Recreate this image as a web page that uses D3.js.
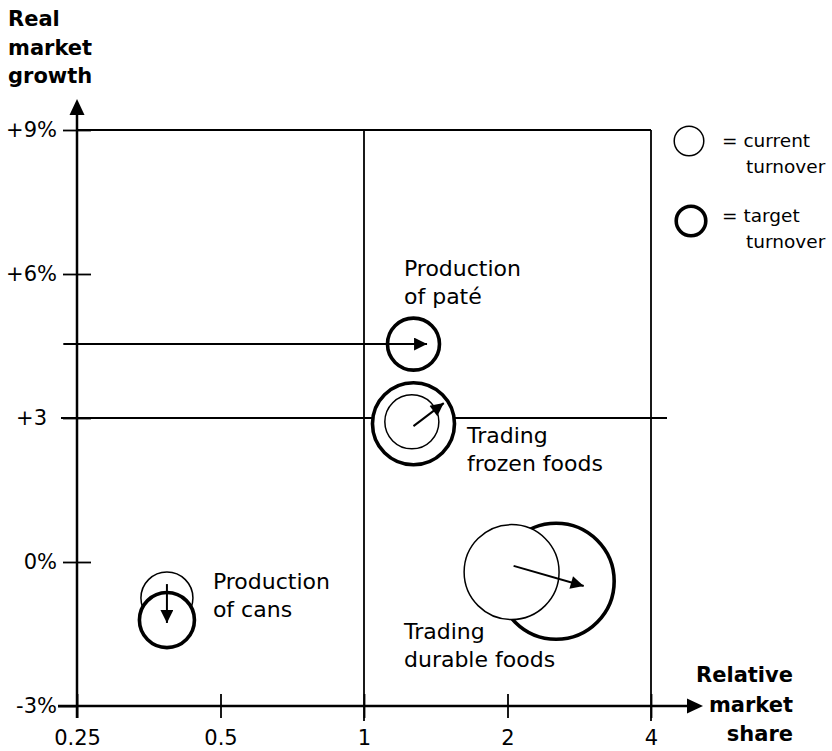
<!DOCTYPE html>
<html>
<head>
<meta charset="utf-8">
<script src="https://cdn.jsdelivr.net/npm/d3@7"></script>
<style>
  body { margin: 0; background: #fff; }
  svg text { font-family: "DejaVu Sans", sans-serif; fill: #000; }
</style>
</head>
<body>
<div id="chart"></div>
<script>
// Axis ticks
const shareTicks = [0.25, 0.5, 1, 2, 4];
const shareTickLabels = ["0.25", "0.5", "1", "2", "4"];
const growthTicks = [-3, 0, 3, 6, 9];
const growthTickLabels = ["-3%", "0%", "+3", "+6%", "+9%"];

// Businesses: current and target position (relative share, real growth %) and turnover
const businesses = ["Production of paté", "Trading frozen foods", "Trading durable foods", "Production of cans"];
const labelLines = [["Production", "of paté"], ["Trading", "frozen foods"], ["Trading", "durable foods"], ["Production", "of cans"]];
const currentShare = [null, 1.26, 2.04, 0.386];
const currentGrowth = [null, 2.92, -0.21, -0.75];
const currentTurnover = [null, 21.7, 67, 20.1];
const targetShare = [1.27, 1.27, 2.53, 0.386];
const targetGrowth = [4.54, 2.88, -0.40, -1.21];
const targetTurnover = [20.1, 50, 100, 22.5];
const currentOnTop = [true, true, true, false];

// Movement arrows (share, growth) from -> to
const arrowFromShare = [0.234, 1.27, 2.06, 0.386];
const arrowFromGrowth = [4.54, 2.83, -0.08, -0.46];
const arrowToShare = [1.356, 1.47, 2.89, 0.386];
const arrowToGrowth = [4.54, 3.31, -0.50, -1.27];

// Label anchors in data units
const labelShare = [1.213, 1.645, 1.213, 0.482];
const labelGrowth = [5.96, 2.48, -1.60, -0.56];

const legendTurnover = 6.5;
const legendItems = [["= current", "turnover"], ["= target", "turnover"]];

const svgWidth = 832;
const svgHeight = 751;

const svg = d3.select("#chart")
  .append("svg")
  .attr("width", svgWidth)
  .attr("height", svgHeight);

// scales
const x = d3.scaleLog().base(2).domain([0.25, 4]).range([77, 651]);
const y = d3.scaleLinear().domain([-3, 9]).range([706, 130]);
const r = d3.scaleSqrt().domain([0, 100]).range([0, 58]);

// arrow head marker
svg.append("defs").append("marker")
  .attr("id", "head")
  .attr("viewBox", "0 0 10 10")
  .attr("refX", 10)
  .attr("refY", 5)
  .attr("markerWidth", 14)
  .attr("markerHeight", 13)
  .attr("markerUnits", "userSpaceOnUse")
  .attr("orient", "auto")
  .append("path")
  .attr("d", "M0,0L10,5L0,10Z")
  .attr("fill", "#000");

// matrix frame lines
const frame = svg.append("g")
  .attr("stroke", "#000")
  .attr("stroke-width", 1.8);

frame.append("line")
  .attr("x1", x(0.25)).attr("x2", x(4))
  .attr("y1", y(9)).attr("y2", y(9));
frame.append("line")
  .attr("x1", x(4)).attr("x2", x(4))
  .attr("y1", y(9)).attr("y2", y(-3) + 15);
frame.append("line")
  .attr("x1", x(1)).attr("x2", x(1))
  .attr("y1", y(9)).attr("y2", y(-3) + 15);
frame.append("line")
  .attr("x1", x(0.25) - 16).attr("x2", x(4) + 16)
  .attr("y1", y(3)).attr("y2", y(3));

// x axis
const xAxis = svg.append("g")
  .attr("transform", `translate(0, ${y(-3)})`)
  .call(d3.axisBottom(x)
    .tickValues(shareTicks)
    .tickFormat((d, i) => shareTickLabels[i])
    .tickSize(12)
    .tickPadding(12));
xAxis.select(".domain").remove();
xAxis.selectAll(".tick line").attr("y1", -12).attr("stroke-width", 1.8);
xAxis.selectAll(".tick text")
  .attr("font-size", 21)
  .attr("font-family", "DejaVu Sans");

// y axis
const yAxis = svg.append("g")
  .attr("transform", `translate(${x(0.25)}, 0)`)
  .call(d3.axisLeft(y)
    .tickValues(growthTicks)
    .tickFormat((d, i) => growthTickLabels[i])
    .tickSize(14)
    .tickPadding(6));
yAxis.select(".domain").remove();
yAxis.selectAll(".tick line").attr("x1", 14).attr("stroke-width", 1.8);
yAxis.selectAll(".tick text")
  .attr("font-size", 21)
  .attr("font-family", "DejaVu Sans");
yAxis.selectAll(".tick").filter(d => d === 3).select("text").attr("dx", -10);
yAxis.selectAll(".tick").filter(d => d === -3).select("line").attr("x1", 0).attr("x2", -19);

// main axis lines with arrow heads
svg.append("line")
  .attr("x1", x(0.25) - 19).attr("x2", 690)
  .attr("y1", y(-3)).attr("y2", y(-3))
  .attr("stroke", "#000").attr("stroke-width", 2.5);
svg.append("path")
  .attr("d", `M687,${y(-3) - 7.5}L703,${y(-3)}L687,${y(-3) + 7.5}Z`)
  .attr("fill", "#000");
svg.append("line")
  .attr("x1", x(0.25)).attr("x2", x(0.25))
  .attr("y1", y(-3) + 12).attr("y2", 112)
  .attr("stroke", "#000").attr("stroke-width", 2.5);
svg.append("path")
  .attr("d", `M${x(0.25) - 7.5},115L${x(0.25)},99L${x(0.25) + 7.5},115Z`)
  .attr("fill", "#000");

// axis titles
svg.append("text")
  .attr("font-size", 21).attr("font-weight", "bold")
  .selectAll("tspan")
  .data(["Real", "market", "growth"])
  .join("tspan")
  .attr("x", 8)
  .attr("y", (d, i) => 26 + i * 28.5)
  .text(d => d);

svg.append("text")
  .attr("font-size", 21).attr("font-weight", "bold")
  .attr("text-anchor", "end")
  .selectAll("tspan")
  .data(["Relative", "market", "share"])
  .join("tspan")
  .attr("x", 793)
  .attr("y", (d, i) => 682 + i * 29.5)
  .text(d => d);

// circles
const circles = [];
businesses.forEach((name, i) => {
  const target = { share: targetShare[i], growth: targetGrowth[i], turnover: targetTurnover[i], thick: true };
  if (currentShare[i] === null) {
    circles.push(target);
    return;
  }
  const current = { share: currentShare[i], growth: currentGrowth[i], turnover: currentTurnover[i], thick: false };
  if (currentOnTop[i]) circles.push(target, current);
  else circles.push(current, target);
});

svg.append("g")
  .selectAll("circle")
  .data(circles)
  .join("circle")
  .attr("cx", d => x(d.share))
  .attr("cy", d => y(d.growth))
  .attr("r", d => r(d.turnover))
  .attr("fill", "#fff")
  .attr("stroke", "#000")
  .attr("stroke-width", d => d.thick ? 3.6 : 1.5);

// movement arrows
svg.append("g")
  .selectAll("line")
  .data(businesses)
  .join("line")
  .attr("x1", (d, i) => x(arrowFromShare[i]))
  .attr("y1", (d, i) => y(arrowFromGrowth[i]))
  .attr("x2", (d, i) => x(arrowToShare[i]))
  .attr("y2", (d, i) => y(arrowToGrowth[i]))
  .attr("stroke", "#000")
  .attr("stroke-width", 2)
  .attr("marker-end", "url(#head)");

// business labels
svg.append("g")
  .selectAll("text")
  .data(businesses)
  .join("text")
  .attr("font-size", 22)
  .each(function(d, i) {
    d3.select(this).selectAll("tspan")
      .data(labelLines[i])
      .join("tspan")
      .attr("x", x(labelShare[i]))
      .attr("y", (t, j) => y(labelGrowth[i]) + j * 28)
      .text(t => t);
  });

// legend
const legend = svg.append("g");
legend.selectAll("circle")
  .data(legendItems)
  .join("circle")
  .attr("cx", (d, i) => 689 + i * 2)
  .attr("cy", (d, i) => 141 + i * 80)
  .attr("r", r(legendTurnover))
  .attr("fill", "#fff")
  .attr("stroke", "#000")
  .attr("stroke-width", (d, i) => i ? 3.6 : 1.5);

legend.selectAll("text")
  .data(legendItems)
  .join("text")
  .attr("font-size", 18.5)
  .each(function(d, i) {
    const t = d3.select(this);
    t.append("tspan").attr("x", 722).attr("y", 147 + i * 75).text(d[0]);
    t.append("tspan").attr("x", 746).attr("y", 173 + i * 75).text(d[1]);
  });
</script>
</body>
</html>
